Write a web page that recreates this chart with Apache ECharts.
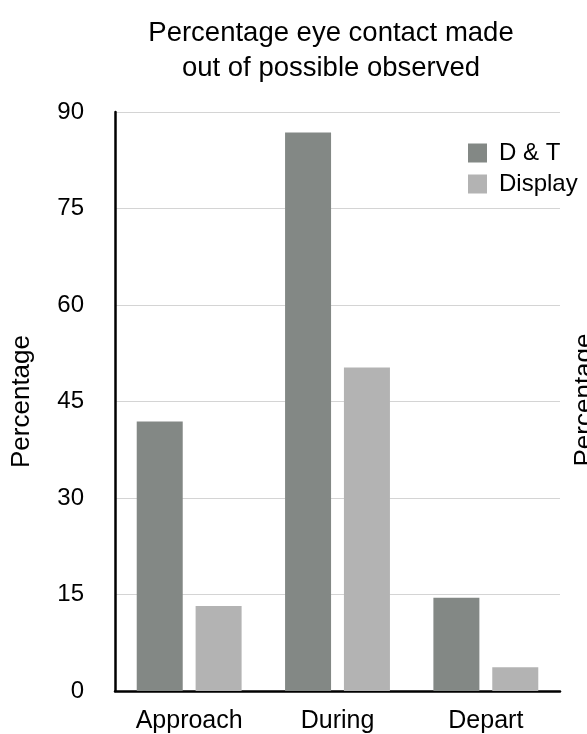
<!DOCTYPE html>
<html>
<head>
<meta charset="utf-8">
<script src="https://cdn.jsdelivr.net/npm/echarts@6/dist/echarts.min.js"></script>
<style>html,body{margin:0;padding:0;background:#fff;}#c{width:587px;height:734px;}</style>
</head>
<body>
<div id="c"></div>
<script>
const categories = ['Approach', 'During', 'Depart'];
const dtValues = [41.9, 86.8, 14.5];
const displayValues = [13.2, 50.3, 3.7];
const seriesNames = ['D & T', 'Display'];
const yTicks = { min: 0, max: 90, interval: 15 };
const titleText = 'Percentage eye contact made\nout of possible observed';
const yName = 'Percentage';

const FONT = '"Liberation Sans", Arial, Helvetica, sans-serif';
const chart = echarts.init(document.getElementById('c'), null, { renderer: 'canvas' });
chart.setOption({
  animation: false,
  backgroundColor: '#ffffff',
  textStyle: { fontFamily: FONT, color: '#000' },
  title: {
    text: titleText,
    left: 326, top: 11, textAlign: 'center',
    textStyle: { fontFamily: FONT, fontSize: 27.5, fontWeight: 'normal', color: '#000', lineHeight: 35 }
  },
  legend: {
    orient: 'vertical', left: 463, top: 136,
    itemWidth: 19, itemHeight: 19, itemGap: 7,
    icon: 'rect',
    textStyle: { fontFamily: FONT, fontSize: 24, color: '#000', padding: [0, 0, 0, 7] },
    data: seriesNames
  },
  grid: { left: 115, right: 27, top: 112, bottom: 43, containLabel: false },
  xAxis: {
    type: 'category', data: categories,
    axisLine: { show: true, lineStyle: { color: '#000', width: 2.5 } },
    axisTick: { show: false },
    axisLabel: { fontFamily: FONT, fontSize: 25, color: '#000', margin: 18 }
  },
  yAxis: {
    type: 'value', min: yTicks.min, max: yTicks.max, interval: yTicks.interval,
    name: yName, nameLocation: 'middle', nameGap: 80,
    nameTextStyle: { fontFamily: FONT, fontSize: 26, color: '#000' },
    axisLine: { show: true, lineStyle: { color: '#000', width: 2.5 } },
    axisTick: { show: false },
    axisLabel: { fontFamily: FONT, fontSize: 24, color: '#000', margin: 31 },
    splitLine: { show: true, lineStyle: { color: '#d4d4d4', width: 1 } }
  },
  series: [
    { name: seriesNames[0], type: 'bar', data: dtValues, barWidth: 46, barGap: '28%',
      itemStyle: { color: '#838885' } },
    { name: seriesNames[1], type: 'bar', data: displayValues, barWidth: 46,
      itemStyle: { color: '#b3b3b3' } }
  ],
  graphic: [{
    type: 'text', x: 585, y: 400, rotation: Math.PI / 2,
    style: { text: yName, fontFamily: FONT, fontSize: 26, fill: '#000', align: 'center', verticalAlign: 'middle' }
  }]
});
</script>
</body>
</html>
